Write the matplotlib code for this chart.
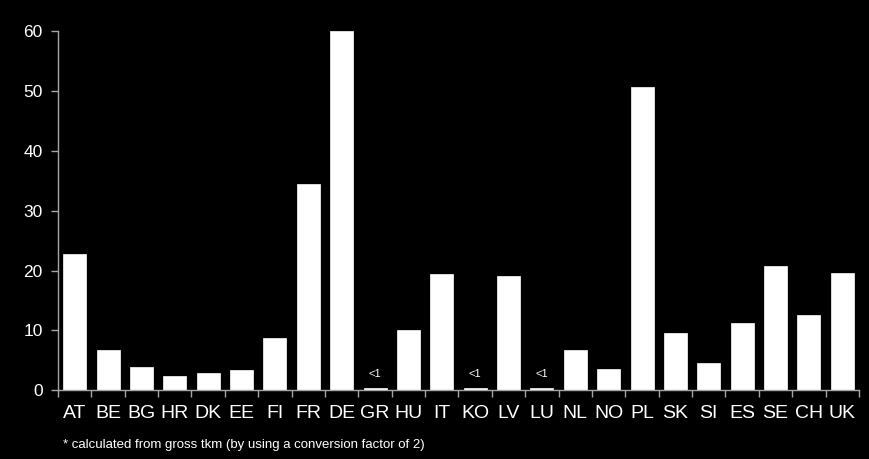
import numpy as np
import matplotlib.pyplot as plt

# Daten
countries = ['AT', 'BE', 'BG', 'HR', 'DK', 'EE', 'FI', 'FR', 'DE', 'GR', 'HU', 'IT',
             'KO', 'LV', 'LU', 'NL', 'NO', 'PL', 'SK', 'SI', 'ES', 'SE', 'CH', 'UK']
values = [22.7, 6.7, 3.9, 2.4, 2.8, 3.45, 8.7, 34.4, 60.0, 0.3, 10.0, 19.4,
          0.3, 19.1, 0.3, 6.7, 3.55, 50.7, 9.5, 4.5, 11.25, 20.7, 12.6, 19.5]
small_label = '<1'
yticks = [0, 10, 20, 30, 40, 50, 60]
footnote = '* calculated from gross tkm (by using a conversion factor of 2)'

plt.rcParams['font.family'] = ['Liberation Sans', 'DejaVu Sans']

fig = plt.figure(figsize=(8.69, 4.59), dpi=100, facecolor='black')
ax = fig.add_axes([0.0667, 0.150, 0.9218, 0.782], facecolor='black')

x = np.arange(len(countries))
ax.bar(x, values, width=0.69, color='white', edgecolor='white', linewidth=0.5)

for xi, v in zip(x, values):
    if v < 1:
        ax.text(xi, v + 1.5, small_label, ha='center', va='bottom',
                color='white', fontsize=8)

axis_col = '#a6a6a6'
ax.set_xlim(-0.5, len(countries) - 0.5)
ax.set_ylim(0, 60)
for s in ['top', 'right']:
    ax.spines[s].set_visible(False)
for s in ['left', 'bottom']:
    ax.spines[s].set_color(axis_col)
    ax.spines[s].set_linewidth(1.0)

ax.set_yticks(yticks)
ax.tick_params(axis='y', colors=axis_col, labelcolor='white', labelsize=12.5,
               direction='out', length=5, width=1, pad=6)
ax.set_xticks(x)
ax.set_xticklabels(countries)
ax.tick_params(axis='x', which='major', length=0, labelcolor='white',
               labelsize=14, pad=11)
ax.set_xticks(np.arange(-0.5, len(countries)), minor=True)
ax.tick_params(axis='x', which='minor', colors=axis_col, direction='out',
               length=5, width=1)

fig.text(0.072, 0.031, footnote, color='white', fontsize=9.5, ha='left', va='center')

fig.savefig('out.png', dpi=100, facecolor='black')
